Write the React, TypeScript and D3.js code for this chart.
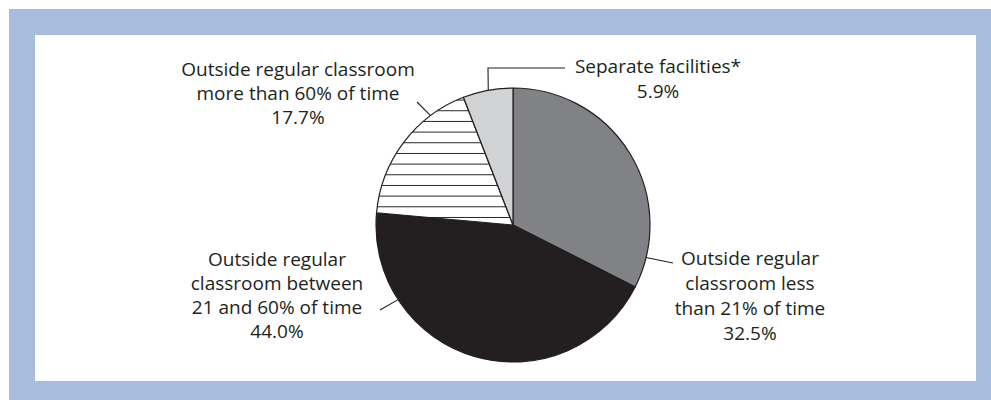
import React from 'react';
import * as d3 from 'd3';

// slice data, clockwise from 12 o'clock
const categories = [
  'Outside regular classroom less than 21% of time',
  'Outside regular classroom between 21 and 60% of time',
  'Outside regular classroom more than 60% of time',
  'Separate facilities*',
];
const shares = [32.5, 44.0, 17.7, 5.9];
const shareLabels = ['32.5%', '44.0%', '17.7%', '5.9%'];
const labelLines = [
  ['Outside regular', 'classroom less', 'than 21% of time'],
  ['Outside regular', 'classroom between', '21 and 60% of time'],
  ['Outside regular classroom', 'more than 60% of time'],
  ['Separate facilities*'],
];

const W = 991;
const H = 400;
const cx = 513;
const cy = 225;
const R = 137;
const INK = '#231f20';
const fills = ['#818285', INK, 'url(#hatch)', '#d1d3d4'];

// label placement: leader angle (deg, clockwise from top), leader path after the rim point, text anchor
const layout = [
  { angle: 103.7, path: [[673, 263]], tx: 750, ty: 265, lh: 25 },
  { angle: 237, path: [[380, 310]], tx: 277, ty: 266, lh: 24 },
  { angle: 323, path: [[417, 102]], tx: 298, ty: 76, lh: 24 },
  { angle: 349.6, path: [[488, 68], [565, 68]], tx: 658, ty: 73, lh: 25 },
];

export default function App() {
  const pie = d3.pie<number>().sort(null).value((d) => d);
  const arcs = pie(shares);
  const arc = d3.arc<d3.PieArcDatum<number>>().innerRadius(0).outerRadius(R);

  return (
    <svg width={W} height={H} style={{ position: 'absolute', left: 0, top: 0 }}>
      <defs>
        <pattern id="hatch" patternUnits="userSpaceOnUse" width={20} height={10.67} y={2.63}>
          <rect width={20} height={10.67} fill="#fff" />
          <line x1={0} x2={20} y1={0.5} y2={0.5} stroke={INK} strokeWidth={1} />
        </pattern>
      </defs>
      <rect x={9} y={9} width={W} height={H} fill="#a8bcdd" />
      <rect x={35} y={35} width={941} height={346} fill="#fff" />

      <g transform={`translate(${cx},${cy})`}>
        {arcs.map((a, i) => (
          <path key={categories[i]} d={arc(a) || ''} fill={fills[i]} stroke={INK} strokeWidth={1.2} strokeLinejoin="round" />
        ))}
      </g>

      {layout.map((l, i) => {
        const [px, py] = d3.pointRadial((l.angle * Math.PI) / 180, R);
        const pts = [[cx + px, cy + py], ...l.path];
        const line = d3.line()(pts as [number, number][]) || '';
        const lines = [...labelLines[i], shareLabels[i]];
        return (
          <g key={'lab' + i}>
            <path d={line} fill="none" stroke={INK} strokeWidth={1.1} />
            <text
              x={l.tx}
              y={l.ty}
              textAnchor="middle"
              fontFamily="'Open Sans', sans-serif"
              fontSize={19}
              fill={INK}
            >
              {lines.map((t, k) => (
                <tspan key={k} x={l.tx} y={l.ty + k * l.lh}>
                  {t}
                </tspan>
              ))}
            </text>
          </g>
        );
      })}
    </svg>
  );
}
